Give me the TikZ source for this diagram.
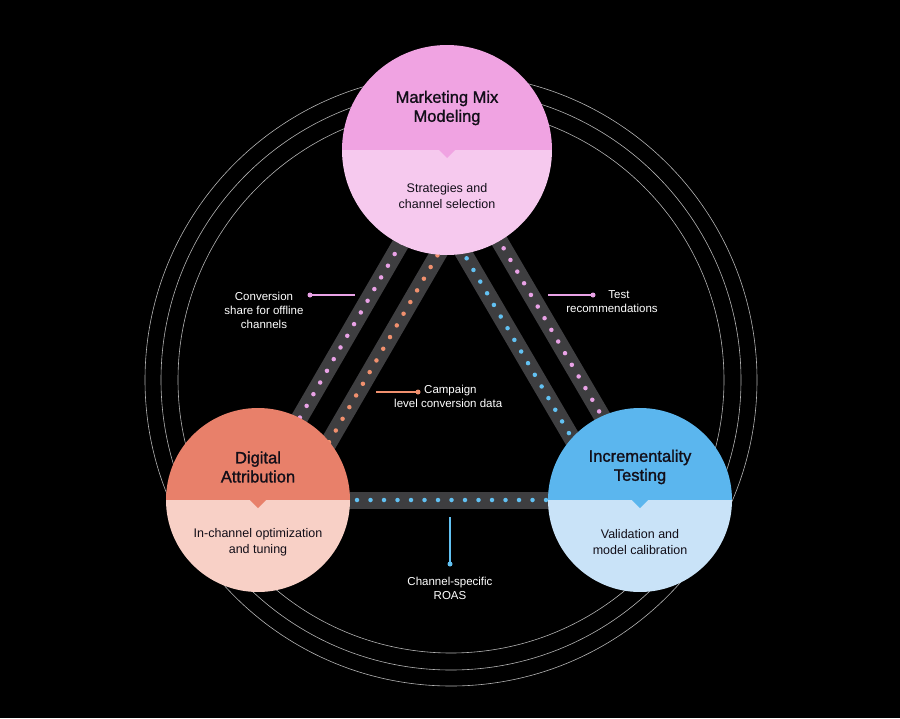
\documentclass[tikz,border=0pt]{standalone}
\usepackage{fontspec}
\setmainfont{Liberation Sans}
\newfontfamily\titlefont[FakeBold=1.3]{Liberation Sans}
\usetikzlibrary{calc}
\definecolor{bg}{HTML}{000000}
\definecolor{ring}{HTML}{9A9A9A}
\definecolor{bar}{HTML}{3E3E40}
\definecolor{pinkA}{HTML}{F0A3E2}
\definecolor{pinkB}{HTML}{F6C9EE}
\definecolor{oraA}{HTML}{E8806A}
\definecolor{oraB}{HTML}{F8D0C6}
\definecolor{bluA}{HTML}{5BB6EE}
\definecolor{bluB}{HTML}{C9E3F8}
\definecolor{dpink}{HTML}{E9A2E6}
\definecolor{dora}{HTML}{F0906E}
\definecolor{dblue}{HTML}{62C1F2}
\definecolor{txt}{HTML}{120E18}
\tikzset{
  barline/.style={draw=bar,line width=17pt},
  dotline/.style={line width=4.5pt,line cap=round,dash pattern=on 0pt off 13.5pt},
  ringline/.style={draw=ring!75,line width=0.6pt},
  lbl/.style={text=white,font=\fontsize{11.5}{14}\selectfont,align=center,inner sep=0pt},
  title/.style={text=txt,font=\titlefont\fontsize{16.5}{19}\selectfont,align=center,inner sep=0pt},
  body/.style={text=txt,font=\fontsize{12.5}{16}\selectfont,align=center,inner sep=0pt},
  lead/.style={line width=1.2pt},
}
\begin{document}
\begin{tikzpicture}[x=1pt,y=-1pt]
\fill[bg] (0,0) rectangle (900,718);
\useasboundingbox (0,0) rectangle (900,718);
% rings
\coordinate (rc) at (451,380);
\draw[ringline] (rc) circle (306);
\draw[ringline] (rc) circle (290);
\draw[ringline] (rc) circle (273);
% bar endpoints
\coordinate (b1s) at (415,219); \coordinate (b1e) at (288,438);
\coordinate (b2s) at (451,232); \coordinate (b2e) at (321,456);
\coordinate (b3s) at (453,235); \coordinate (b3e) at (580,452);
\coordinate (b4s) at (490,225); \coordinate (b4e) at (610,430);
\coordinate (b5s) at (330,500); \coordinate (b5e) at (570,500);
\foreach \s/\e/\c in {b1s/b1e/dpink,b2s/b2e/dora,b3s/b3e/dblue,b4s/b4e/dpink,b5s/b5e/dblue}{
  \draw[barline] (\s) -- (\e);
  \draw[dotline,draw=\c] (\s) -- (\e);
}
% circles
\foreach \n/\x/\y/\r/\ca/\cb in {mmm/447/150/105/pinkA/pinkB,da/258/500/92/oraA/oraB,it/640/500/92/bluA/bluB}{
  \coordinate (\n) at (\x,\y);
  \begin{scope}
    \clip (\n) circle (\r);
    \fill[\cb] ($(\n)+(-\r,0)$) rectangle ($(\n)+(\r,\r)$);
    \fill[\ca] ($(\n)+(-\r,-\r)$) rectangle ($(\n)+(\r,0)$);
    \fill[\ca] ($(\n)+(-8,0)$) -- ($(\n)+(8,0)$) -- ($(\n)+(0,8)$) -- cycle;
  \end{scope}
}
\node[title] (t1) at (447,108) {Marketing Mix\\Modeling};
\node[body] (s1) at (447,196) {Strategies and\\channel selection};
\node[title] (t2) at (258,467) {Digital\\Attribution};
\node[body] (s2) at (258,542) {In-channel optimization\\and tuning};
\node[title] (t3) at (640,467) {Incrementality\\Testing};
\node[body] (s3) at (640,542) {Validation and\\model calibration};
% labels
\node[lbl] (l1) at (264,310) {Conversion\\share for offline\\channels};
\coordinate (l1a) at (310,295); \coordinate (l1b) at (355,295);
\draw[lead,draw=dpink] (l1a) -- (l1b);
\fill[dpink] (l1a) circle (2.5);
\node[lbl] (l2) at (612,302) {\hspace*{1.2em}Test\\recommendations};
\coordinate (l2a) at (593,295); \coordinate (l2b) at (548,295);
\draw[lead,draw=dpink] (l2b) -- (l2a);
\fill[dpink] (l2a) circle (2.5);
\node[lbl,anchor=north west,align=left] (l3) at (394,385) {\hspace*{30pt}Campaign\\level conversion data};
\coordinate (l3a) at (418,392); \coordinate (l3b) at (376,392);
\draw[lead,draw=dora] (l3b) -- (l3a);
\fill[dora] (l3a) circle (2.5);
\node[lbl] (l4) at (450,588) {Channel-specific\\ROAS};
\coordinate (l4a) at (450,517); \coordinate (l4b) at (450,564);
\draw[lead,draw=dblue] (l4a) -- (l4b);
\fill[dblue] (l4b) circle (2.5);
\end{tikzpicture}
\end{document}
